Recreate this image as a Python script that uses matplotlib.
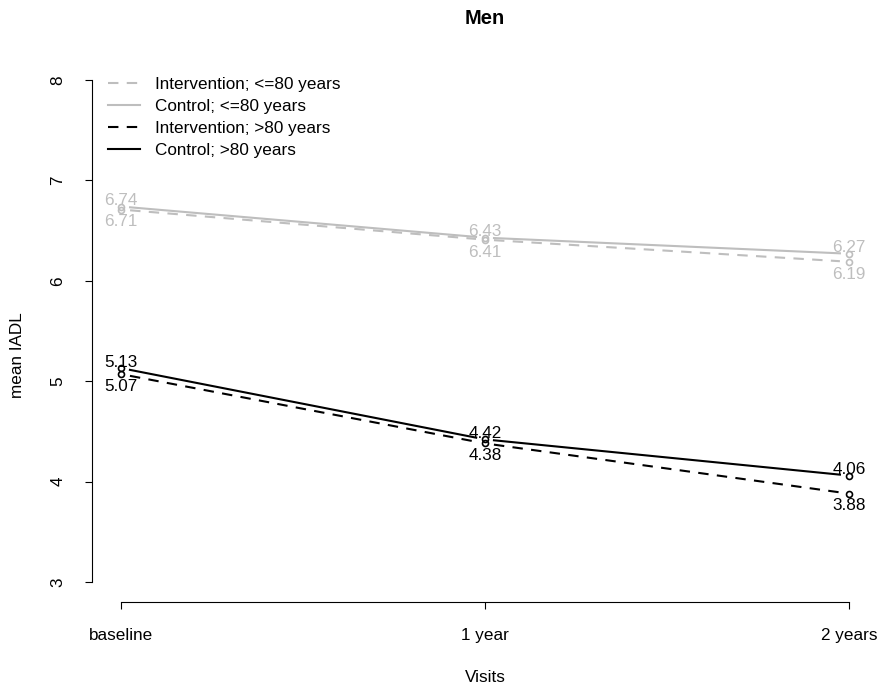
import matplotlib
matplotlib.use("Agg")
import matplotlib.pyplot as plt
from matplotlib.lines import Line2D
import numpy as np

plt.rcParams['font.family'] = ['Liberation Sans', 'DejaVu Sans']

visits = ['baseline', '1 year', '2 years']
int_young = [6.71, 6.41, 6.19]
ctl_young = [6.74, 6.43, 6.27]
int_old = [5.07, 4.38, 3.88]
ctl_old = [5.13, 4.42, 4.06]
yticks = [3, 4, 5, 6, 7, 8]

GREY = '#BEBEBE'
FS = 12.3
W, H = 879, 690

fig = plt.figure(figsize=(W / 100, H / 100), dpi=100)
ax = fig.add_axes([92 / W, 1 - 602 / H, (878 - 92) / W, (602 - 60) / H])
ax.set_xlim(0.92, 3.08)
ax.set_ylim(2.8, 8.2)

DASH = (5, 4)
GAP = 9  # pixels, like R type="b"


def draw_b(ys, color, dashed):
    xs = np.arange(1, len(ys) + 1)
    pts = ax.transData.transform(np.column_stack([xs, ys]))
    inv = ax.transData.inverted()
    for p0, p1 in zip(pts[:-1], pts[1:]):
        d = p1 - p0
        u = d / np.hypot(*d)
        seg = inv.transform([p0 + u * GAP, p1 - u * GAP])
        ln, = ax.plot(seg[:, 0], seg[:, 1], color=color, lw=1.5)
        if dashed:
            ln.set_dashes(DASH)
    ax.plot(xs, ys, 'o', mfc='none', mec=color, ms=4.3, mew=1.2)


def labels(ys, color, above):
    for i, v in enumerate(ys):
        if above:
            ax.annotate(f'{v:.2f}', (i + 1, v), xytext=(0, 1), textcoords='offset points',
                        ha='center', va='baseline', color=color, fontsize=FS)
        else:
            ax.annotate(f'{v:.2f}', (i + 1, v), xytext=(0, -3.5), textcoords='offset points',
                        ha='center', va='top', color=color, fontsize=FS)


draw_b(int_young, GREY, True)
draw_b(ctl_young, GREY, False)
draw_b(int_old, 'black', True)
draw_b(ctl_old, 'black', False)
labels(ctl_young, GREY, True)
labels(int_young, GREY, False)
labels(ctl_old, 'black', True)
labels(int_old, 'black', False)

for s in ['top', 'right']:
    ax.spines[s].set_visible(False)
ax.spines['left'].set_bounds(3, 8)
ax.spines['bottom'].set_bounds(1, 3)
for s in ['left', 'bottom']:
    ax.spines[s].set_linewidth(0.8)

ax.set_xticks([1, 2, 3])
ax.set_xticklabels(visits, fontsize=FS)
ax.set_yticks(yticks)
ax.set_yticklabels([str(t) for t in yticks], fontsize=FS, rotation=90, va='center')
ax.tick_params(length=5, width=0.8, pad=14)

handles = [
    Line2D([], [], color=GREY, lw=1.5, dashes=DASH),
    Line2D([], [], color=GREY, lw=1.5),
    Line2D([], [], color='black', lw=1.5, dashes=DASH),
    Line2D([], [], color='black', lw=1.5),
]
names = ['Intervention; <=80 years', 'Control; <=80 years',
         'Intervention; >80 years', 'Control; >80 years']
fig.legend(handles, names, loc='upper left', bbox_to_anchor=(108 / W, 1 - 77 / H),
           frameon=False, fontsize=FS, handlelength=1.85, handletextpad=0.9,
           labelspacing=0.4, borderpad=0, borderaxespad=0)

fig.text(485 / W, 1 - 18 / H, 'Men', ha='center', va='center', fontsize=14.5, fontweight='bold')
fig.text(485 / W, 1 - 678 / H, 'Visits', ha='center', va='center', fontsize=FS)
fig.text(18 / W, 1 - 355 / H, 'mean IADL', ha='center', va='center', rotation=90, fontsize=FS)

fig.savefig('out.png', dpi=100)
